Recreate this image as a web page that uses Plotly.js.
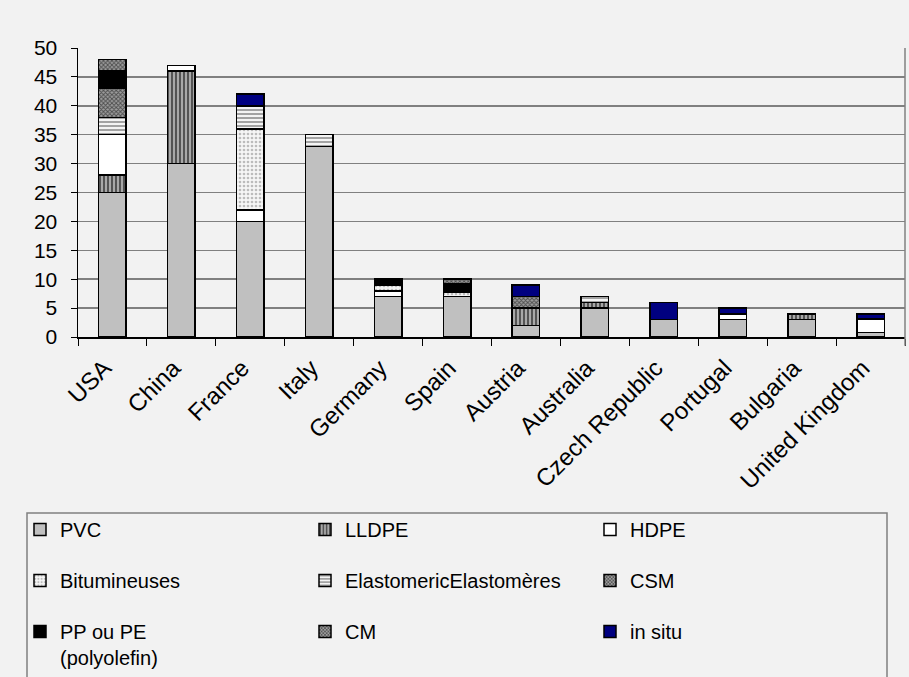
<!DOCTYPE html>
<html>
<head>
<meta charset="utf-8">
<script src="https://cdn.plot.ly/plotly-3.0.1.min.js"></script>
<style>
  html, body { margin: 0; padding: 0; background: #f2f2f2; }
  #chart { width: 909px; height: 677px; }
</style>
</head>
<body>
<div id="chart"></div>
<script>
// Geomembrane use by country, stacked by material type
const countries = ['USA', 'China', 'France', 'Italy', 'Germany', 'Spain', 'Austria',
  'Australia', 'Czech Republic', 'Portugal', 'Bulgaria', 'United Kingdom'];

const pvc    = [25, 30, 20, 33, 7, 7, 2, 5, 3, 3, 3, 0.8];
const lldpe  = [3, 16, null, null, null, null, 3, 1, null, null, 1, null];
const hdpe   = [7, 1, 2, null, 1, null, null, null, null, 1, null, 2.3];
const bitum  = [null, null, 14, null, 1, 0.7, null, null, null, null, null, null];
const elasto = [3, null, 4, 2, null, null, null, 1, null, null, null, null];
const csm    = [5, null, null, null, null, null, 2, null, null, null, null, null];
const ppPe   = [3, null, null, null, 1, 1.6, null, null, null, null, null, null];
const cm     = [2, null, null, null, null, 0.7, null, null, null, null, null, null];
const inSitu = [null, null, 2, null, null, null, 2, null, 3, 1, null, 0.9];

const yTicks = [0, 5, 10, 15, 20, 25, 30, 35, 40, 45, 50];

const FONT = 'Liberation Sans, Arial, sans-serif';
const edge = { color: '#000000', width: 1.5 };

// legendId picks the legend column the series is listed in
function series(name, values, fill, legendId, pattern) {
  const marker = { color: fill, line: edge };
  if (pattern) marker.pattern = pattern;
  return {
    type: 'bar', name: name, x: countries, y: values, marker: marker,
    legend: legendId, legendgroup: name, hoverinfo: 'x+y+name'
  };
}

const hatch = { shape: 'x', bgcolor: '#9c9c9c', fgcolor: '#4c4c4c', size: 3, solidity: 0.5 };

const traces = [
  series('PVC', pvc, '#c0c0c0', 'legend'),
  series('LLDPE', lldpe, '#8c8c8c', 'legend2',
    { shape: '|', bgcolor: '#a8a8a8', fgcolor: '#4a4a4a', size: 4, solidity: 0.45 }),
  series('HDPE', hdpe, '#ffffff', 'legend3'),
  series('Bitumineuses', bitum, '#eeeeee', 'legend',
    { shape: '.', bgcolor: '#f6f6f6', fgcolor: '#bcbcbc', size: 4, solidity: 0.35 }),
  series('ElastomericElastomères', elasto, '#dddddd', 'legend2',
    { shape: '-', bgcolor: '#f4f4f4', fgcolor: '#9a9a9a', size: 4, solidity: 0.45 }),
  series('CSM', csm, '#808080', 'legend3', hatch),
  series('PP ou PE<br>(polyolefin)', ppPe, '#000000', 'legend'),
  series('CM', cm, '#808080', 'legend2', hatch),
  series('in situ', inSitu, '#000080', 'legend3')
];

function column(xPx) {
  return {
    xref: 'container', yref: 'container',
    x: xPx / 909, y: 1 - 510 / 677,
    xanchor: 'left', yanchor: 'top',
    orientation: 'v',
    traceorder: 'grouped',
    tracegroupgap: 22,
    valign: 'top',
    bgcolor: 'rgba(0,0,0,0)',
    borderwidth: 0,
    font: { family: FONT, size: 20, color: '#000000' },
    itemclick: false,
    itemdoubleclick: false
  };
}

// plot-area geometry used to place the legend frame in paper units
const plotLeft = 78, plotW = 827, plotTop = 48, plotH = 289;
const px2x = (px) => (px - plotLeft) / plotW;
const py2y = (py) => (plotTop + plotH - py) / plotH;

const layout = {
  width: 909,
  height: 677,
  barmode: 'stack',
  bargap: 0.6,
  paper_bgcolor: '#f2f2f2',
  plot_bgcolor: '#f2f2f2',
  font: { family: FONT, size: 20, color: '#000000' },
  margin: { l: 78, r: 4, t: 48, b: 340, pad: 0, autoexpand: false },
  xaxis: {
    type: 'category',
    automargin: false,
    showline: true,
    linecolor: '#000000',
    linewidth: 1.5,
    ticks: 'outside',
    tickson: 'boundaries',
    ticklen: 7,
    tickcolor: '#000000',
    tickangle: -45,
    ticklabelshift: -8,
    ticklabelstandoff: 6,
    tickfont: { family: FONT, size: 24 },
    showgrid: false,
    fixedrange: true
  },
  yaxis: {
    range: [0, 50],
    automargin: false,
    tickvals: yTicks,
    ticktext: yTicks.map(String),
    showline: true,
    linecolor: '#000000',
    linewidth: 1.5,
    ticks: 'outside',
    ticklen: 6,
    tickcolor: '#000000',
    ticklabelstandoff: 9,
    tickfont: { family: FONT, size: 21 },
    showgrid: true,
    gridcolor: '#808080',
    gridwidth: 1.5,
    zeroline: false,
    fixedrange: true
  },
  shapes: [
    // right edge of the plot frame
    { type: 'line', xref: 'paper', yref: 'paper', x0: 1, x1: 1, y0: -0.03, y1: 1,
      line: { color: '#808080', width: 1.5 } },
    // legend frame
    { type: 'rect', xref: 'paper', yref: 'paper', layer: 'below',
      x0: px2x(27), x1: px2x(887), y0: py2y(513), y1: py2y(700),
      line: { color: '#808080', width: 1.5 }, fillcolor: 'rgba(0,0,0,0)' }
  ],
  legend: column(20),
  legend2: column(305),
  legend3: column(590),
  showlegend: true
};

Plotly.newPlot('chart', traces, layout, { displayModeBar: false, staticPlot: true });
</script>
</body>
</html>
